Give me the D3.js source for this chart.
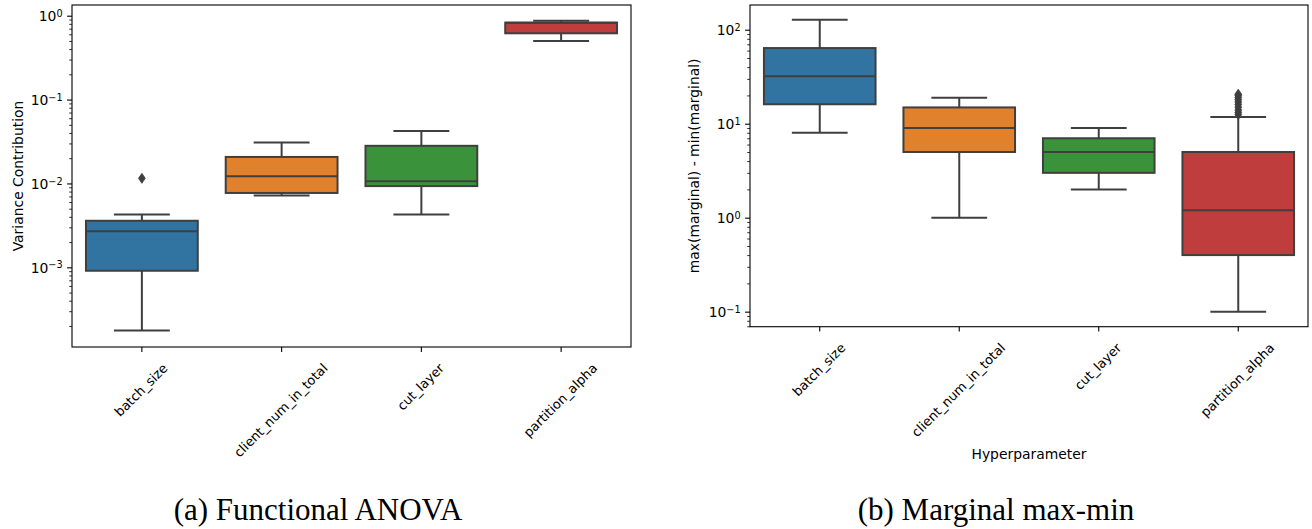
<!DOCTYPE html>
<html>
<head>
<meta charset="utf-8">
<script src="https://cdn.jsdelivr.net/npm/d3@7"></script>
<style>
  html, body { margin: 0; padding: 0; background: #fff; }
  svg { display: block; }
  text { font-family: "DejaVu Sans", sans-serif; fill: #000; }
</style>
</head>
<body>
<svg id="chart" width="1312" height="529"></svg>
<script>
// Hyperparameters on the x axis (shared by both panels)
const categories = ["batch_size", "client_num_in_total", "cut_layer", "partition_alpha"];
const boxColors = ["#3274a1", "#e1812c", "#3a923a", "#c03d3e"];

// (a) Functional ANOVA: variance contribution box statistics
const anovaLow    = [0.000176, 0.0072, 0.00427, 0.50];
const anovaQ1     = [0.00091,  0.0077, 0.0093,  0.617];
const anovaMedian = [0.0027,   0.0122, 0.0106,  0.826];
const anovaQ3     = [0.00359,  0.0207, 0.0281,  0.826];
const anovaHigh   = [0.00427,  0.0308, 0.0423,  0.872];
const anovaOutliers = [[0.0115], [], [], []];
const anovaTicks = [1e-3, 1e-2, 1e-1, 1e0];

// (b) Marginal max-min box statistics
const marginalLow    = [8.0,  1.0,  2.0, 0.1];
const marginalQ1     = [16.1, 5.0,  3.0, 0.4];
const marginalMedian = [31.9, 9.0,  5.0, 1.2];
const marginalQ3     = [63.8, 14.9, 7.0, 5.0];
const marginalHigh   = [127.7, 18.9, 9.0, 11.8];
const marginalOutliers = [[], [], [], [12.5, 13.2, 14, 15, 16, 17, 18, 19, 20, 20.6]];
const marginalTicks = [1e-1, 1e0, 1e1, 1e2];

const svg = d3.select("#chart");
const lineColor = "#3f3f3f";

function superscriptExp(v) {
  const e = Math.round(Math.log10(v));
  return e < 0 ? "\u2212" + Math.abs(e) : String(e);
}

function drawPanel(cfg) {
  const { left, right, top, bottom, domain, ticks, stats, outliers, yLabel, yLabelX, xLabel } = cfg;
  const g = svg.append("g");

  const x = d3.scaleBand().domain(categories).range([left, right]).paddingInner(0).paddingOuter(0);
  const y = d3.scaleLog().domain(domain).range([bottom, top]);

  // minor log ticks
  const minor = [];
  const lo = Math.floor(Math.log10(domain[0])), hi = Math.ceil(Math.log10(domain[1]));
  for (let e = lo; e <= hi; e++) {
    for (let m = 2; m <= 9; m++) {
      const v = m * Math.pow(10, e);
      if (v >= domain[0] && v <= domain[1]) minor.push(v);
    }
  }
  const minorAxis = d3.axisLeft(y).tickValues(minor).tickSize(2.8).tickFormat("");
  const gMinor = g.append("g").attr("transform", `translate(${left},0)`).call(minorAxis);
  gMinor.select(".domain").remove();
  gMinor.selectAll(".tick line").attr("stroke", "#000").attr("stroke-width", 0.8);

  const majorAxis = d3.axisLeft(y).tickValues(ticks).tickSize(4.9).tickPadding(4.5).tickFormat(() => "");
  const gMajor = g.append("g").attr("transform", `translate(${left},0)`).call(majorAxis);
  gMajor.select(".domain").remove();
  gMajor.selectAll(".tick line").attr("stroke", "#000").attr("stroke-width", 1.1);
  gMajor.selectAll(".tick text")
    .attr("font-size", 13.9)
    .attr("font-family", "DejaVu Sans")
    .attr("fill", "#000")
    .attr("dy", "0.36em")
    .each(function (d) {
      const t = d3.select(this);
      t.append("tspan").text("10");
      t.append("tspan").attr("dy", "-0.45em").attr("font-size", 9.7).text(superscriptExp(d));
    });

  // x axis ticks and rotated labels
  const xAxis = d3.axisBottom(x).tickSize(4.9).tickFormat("");
  const gx = g.append("g").attr("transform", `translate(0,${bottom})`).call(xAxis);
  gx.select(".domain").remove();
  gx.selectAll(".tick line").attr("stroke", "#000").attr("stroke-width", 1.1);

  const fs = 13;
  categories.forEach(c => {
    const cx = x(c) + x.bandwidth() / 2;
    const t = g.append("text")
      .attr("font-size", fs)
      .attr("text-anchor", "middle")
      .text(c);
    const L = t.node().getComputedTextLength();
    const asc = 0.76 * fs, desc = 0.24 * fs;
    const off = 0.707 * (asc - desc) / 2;
    const half = 0.707 * (L / 2 + (asc + desc) / 2);
    const ax = cx + off;
    const ay = bottom + 15 + half + off;
    t.attr("transform", `translate(${ax},${ay}) rotate(-45)`);
  });

  // boxes
  const bw = x.bandwidth() * 0.8;
  categories.forEach((c, i) => {
    const cx = x(c) + x.bandwidth() / 2;
    const s = stats;
    // whiskers
    g.append("line").attr("x1", cx).attr("x2", cx).attr("y1", y(s.high[i])).attr("y2", y(s.q3[i]))
      .attr("stroke", lineColor).attr("stroke-width", 2);
    g.append("line").attr("x1", cx).attr("x2", cx).attr("y1", y(s.q1[i])).attr("y2", y(s.low[i]))
      .attr("stroke", lineColor).attr("stroke-width", 2);
    // caps
    [s.high[i], s.low[i]].forEach(v => {
      g.append("line").attr("x1", cx - bw / 4).attr("x2", cx + bw / 4).attr("y1", y(v)).attr("y2", y(v))
        .attr("stroke", lineColor).attr("stroke-width", 2);
    });
    // box
    g.append("rect")
      .attr("x", cx - bw / 2).attr("width", bw)
      .attr("y", y(s.q3[i])).attr("height", y(s.q1[i]) - y(s.q3[i]))
      .attr("fill", boxColors[i]).attr("stroke", lineColor).attr("stroke-width", 2);
    // median
    g.append("line").attr("x1", cx - bw / 2).attr("x2", cx + bw / 2)
      .attr("y1", y(s.median[i])).attr("y2", y(s.median[i]))
      .attr("stroke", lineColor).attr("stroke-width", 2);
    // outliers (thin diamonds)
    outliers[i].forEach(v => {
      const py = y(v);
      g.append("path")
        .attr("d", `M${cx},${py - 5}L${cx + 3.4},${py}L${cx},${py + 5}L${cx - 3.4},${py}Z`)
        .attr("fill", lineColor).attr("stroke", lineColor).attr("stroke-width", 0.8);
    });
  });

  // frame
  g.append("rect").attr("x", left).attr("y", top).attr("width", right - left).attr("height", bottom - top)
    .attr("fill", "none").attr("stroke", "#000").attr("stroke-width", 1.1);

  // axis labels
  g.append("text")
    .attr("transform", `translate(${yLabelX},${(top + bottom) / 2}) rotate(-90)`)
    .attr("text-anchor", "middle").attr("font-size", 13.9)
    .text(yLabel);
  if (xLabel) {
    g.append("text")
      .attr("x", (left + right) / 2).attr("y", xLabel.y)
      .attr("text-anchor", "middle").attr("font-size", 13.9)
      .text(xLabel.text);
  }
}

drawPanel({
  left: 72, right: 631, top: 5, bottom: 347,
  domain: [Math.pow(10, -3.95), Math.pow(10, 0.1276)],
  ticks: anovaTicks,
  stats: { low: anovaLow, q1: anovaQ1, median: anovaMedian, q3: anovaQ3, high: anovaHigh },
  outliers: anovaOutliers,
  yLabel: "Variance Contribution", yLabelX: 23
});

drawPanel({
  left: 750, right: 1308, top: 5, bottom: 326.7,
  domain: [Math.pow(10, -1.16), Math.pow(10, 2.263)],
  ticks: marginalTicks,
  stats: { low: marginalLow, q1: marginalQ1, median: marginalMedian, q3: marginalQ3, high: marginalHigh },
  outliers: marginalOutliers,
  yLabel: "max(marginal) - min(marginal)", yLabelX: 699,
  xLabel: { text: "Hyperparameter", y: 458.5 }
});

// sub-figure captions
svg.append("text")
  .attr("x", 318).attr("y", 520)
  .attr("text-anchor", "middle")
  .style("font-family", "'Liberation Serif', serif").attr("font-size", 31)
  .text("(a) Functional ANOVA");
svg.append("text")
  .attr("x", 996).attr("y", 520)
  .attr("text-anchor", "middle")
  .style("font-family", "'Liberation Serif', serif").attr("font-size", 31)
  .text("(b) Marginal max-min");
</script>
</body>
</html>
